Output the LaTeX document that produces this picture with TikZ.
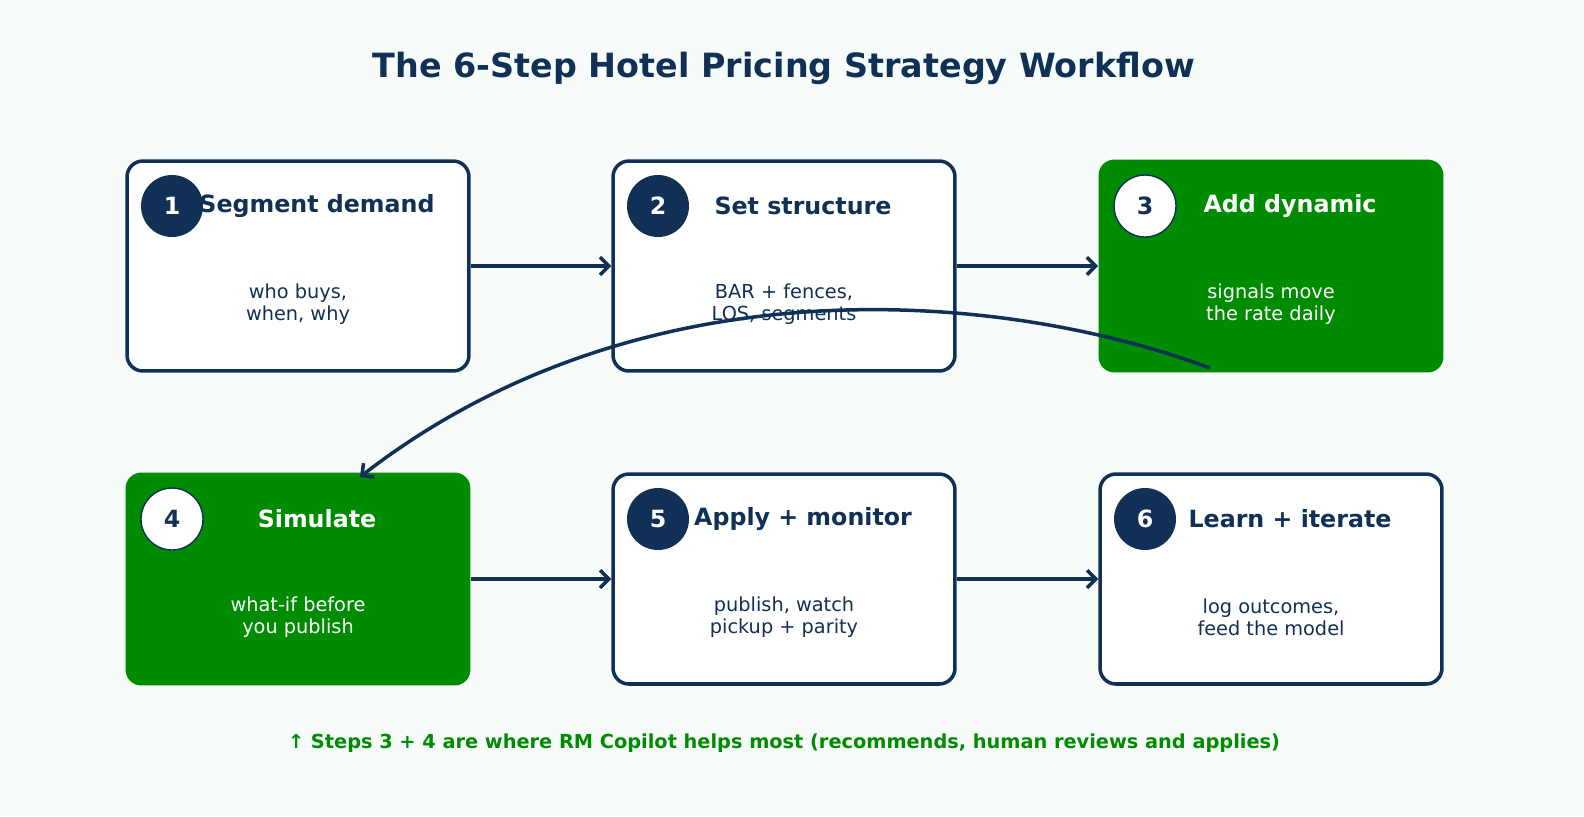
\documentclass[tikz,border=0pt]{standalone}
\usepackage{fontspec}
\setmainfont{DejaVu Sans}
\usetikzlibrary{arrows.meta,positioning}
\definecolor{navy}{HTML}{103056}
\definecolor{leaf}{HTML}{008C00}
\definecolor{bgc}{HTML}{F7FCFB}
\tikzset{>={Straight Barb[length=5pt,width=10pt]}}

\begin{document}
\begin{tikzpicture}[x=0.02cm,y=-0.02cm,
                    stage/.style={draw=navy, line width=2pt, fill=white, rounded corners=9pt,
                                 minimum width=6.84cm, minimum height=4.2cm},
                    hot/.style={fill=leaf, rounded corners=9pt,
                                minimum width=6.9cm, minimum height=4.26cm},
                    badge/.style={circle, minimum size=1.24cm, font=\bfseries\fontsize{13.5}{15}\selectfont},
                    dark/.style={badge, fill=navy, text=white},
                    light/.style={badge, fill=white, draw=navy, thick, text=navy},
                    head/.style={font=\bfseries\fontsize{13.5}{15}\selectfont},
                    desc/.style={font=\fontsize{11}{12.5}\selectfont, align=center},
                    flow/.style={navy, line width=2pt, ->},
                   ]

\useasboundingbox (0,0) rectangle (1584,816);
\fill[bgc] (0,0) rectangle (1584,816);

\node[font=\bfseries\fontsize{19}{22}\selectfont, text=navy] (title) at (784,68) {The 6-Step Hotel Pricing Strategy Workflow};

% row one
\node[stage] (s1) at (298,266) {};
\node[stage] (s2) at (784,266) {};
\node[hot]  (s3) at (1271,266) {};
% row two
\node[hot]  (s4) at (298,579) {};
\node[stage] (s5) at (784,579) {};
\node[stage] (s6) at (1271,579) {};

\node[dark]  (b1) at (172,206) {1};
\node[dark]  (b2) at (658,206) {2};
\node[light] (b3) at (1145,206) {3};
\node[light] (b4) at (172,519) {4};
\node[dark]  (b5) at (658,519) {5};
\node[dark]  (b6) at (1145,519) {6};

\node[head, text=navy]  (h1) at (317,206) {Segment demand};
\node[head, text=navy]  (h2) at (803,206) {Set structure};
\node[head, text=white] (h3) at (1290,206) {Add dynamic};
\node[head, text=white] (h4) at (317,519) {Simulate};
\node[head, text=navy]  (h5) at (803,519) {Apply + monitor};
\node[head, text=navy]  (h6) at (1290,519) {Learn + iterate};

\node[desc, text=navy]  (d1) at (298,304) {who buys,\\when, why};
\node[desc, text=navy]  (d2) at (784,304) {BAR + fences,\\LOS, segments};
\node[desc, text=white] (d3) at (1271,304) {signals move\\the rate daily};
\node[desc, text=white] (d4) at (298,617) {what-if before\\you publish};
\node[desc, text=navy]  (d5) at (784,617) {publish, watch\\pickup + parity};
\node[desc, text=navy]  (d6) at (1271,617) {log outcomes,\\feed the model};

\draw[flow] (s1) -- (s2);
\draw[flow] (s2) -- (s3);
\draw[flow] (s4) -- (s5);
\draw[flow] (s5) -- (s6);

\coordinate (from) at (1210,368);
\coordinate (to) at (360,477);
\draw[flow] (from) .. controls (1000,290) and (640,260) .. (to);

\node[font=\bfseries\fontsize{11}{12}\selectfont, text=leaf] (note) at (784,743)
  {↑ Steps 3 + 4 are where RM Copilot helps most (recommends, human reviews and applies)};

\end{tikzpicture}
\end{document}
